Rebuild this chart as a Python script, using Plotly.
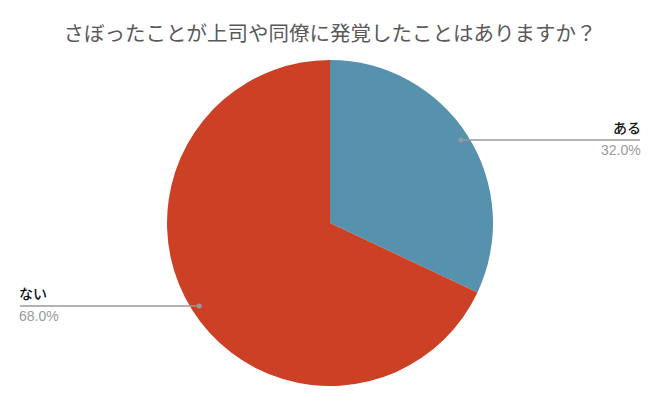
import math
import plotly.graph_objects as go

# data
labels = ["ある", "ない"]
values = [32.0, 68.0]
colors = ["#5691ae", "#cc4125"]
title_text = "さぼったことが上司や同僚に発覚したことはありますか？"

W, H = 660, 408
cx, cy, r = 330, 223, 163   # pie centre / radius in px

fig = go.Figure(go.Pie(
    labels=labels,
    values=values,
    marker=dict(colors=colors, line=dict(width=0)),
    sort=False,
    direction="clockwise",
    rotation=0,
    textinfo="none",
    hoverinfo="label+percent",
    showlegend=False,
    domain=dict(x=[(cx - r) / W, (cx + r) / W], y=[1 - (cy + r) / H, 1 - (cy - r) / H]),
))

# leader lines + labels, placed from slice mid-angles
total = sum(values)
start = 0.0
for lab, v in zip(labels, values):
    ang = math.radians((start + v / 2) / total * 360)
    start += v
    px_ = cx + 0.95 * r * math.sin(ang)
    py_ = cy - 0.95 * r * math.cos(ang)
    right = math.sin(ang) > 0
    ex = 640 if right else 20
    fig.add_shape(type="line", xref="paper", yref="paper",
                  x0=px_ / W, y0=1 - py_ / H, x1=ex / W, y1=1 - py_ / H,
                  line=dict(color="#999999", width=1.5))
    fig.add_shape(type="circle", xref="paper", yref="paper",
                  x0=(px_ - 2.5) / W, y0=1 - (py_ - 2.5) / H,
                  x1=(px_ + 2.5) / W, y1=1 - (py_ + 2.5) / H,
                  fillcolor="#999999", line=dict(width=0))
    anchor = "right" if right else "left"
    fig.add_annotation(x=ex / W, y=1 - (py_ - 2) / H, xref="paper", yref="paper",
                       text=lab, showarrow=False, xanchor=anchor, yanchor="bottom",
                       borderpad=0, xshift=2 if right else -2,
                       font=dict(size=14, color="#111111",
                                 family="Noto Sans CJK JP Medium, Noto Sans CJK JP"))
    fig.add_annotation(x=ex / W, y=1 - (py_ + 1) / H, xref="paper", yref="paper",
                       text=f"{v / total * 100:.1f}%", showarrow=False, xanchor=anchor, yanchor="top",
                       borderpad=0, xshift=2 if right else -2,
                       font=dict(size=14, color="#999999", family="Liberation Sans, Arial, sans-serif"))

fig.update_layout(
    width=W, height=H,
    margin=dict(l=0, r=0, t=0, b=0),
    paper_bgcolor="white",
    font=dict(family="Noto Sans CJK JP, Noto Sans, sans-serif"),
    title=dict(text=title_text, x=0.5, xanchor="center", y=1 - 34 / H, yanchor="middle",
               font=dict(size=20.5, color="#595959")),
)

fig.write_html("out.html", config={"displayModeBar": False},
               post_script="document.body.style.margin='0';")
